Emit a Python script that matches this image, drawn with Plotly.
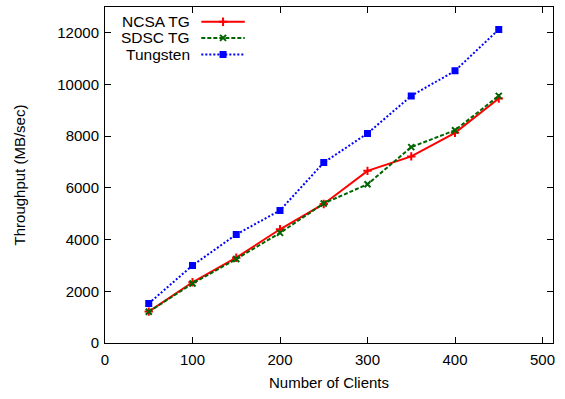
import plotly.graph_objects as go

clients = [50, 100, 150, 200, 250, 300, 350, 400, 450]
ncsa = [1215, 2350, 3300, 4400, 5380, 6660, 7220, 8130, 9460]
sdsc = [1210, 2300, 3250, 4260, 5400, 6140, 7580, 8230, 9560]
tungsten = [1530, 3000, 4200, 5130, 6980, 8110, 9560, 10530, 12130]

names = ["NCSA TG", "SDSC TG", "Tungsten"]
colors = ["#ff0000", "#006400", "#0000ff"]
dashes = ["solid", "4px,2px", "2px,2px"]
symbols = ["cross-thin-open", "x-thin-open", "square"]
msizes = [6, 6, 5]
series = [ncsa, sdsc, tungsten]

FONT = "Liberation Sans, Arial, Helvetica, sans-serif"
FS = 15

fig = go.Figure()
for name, ys, c, d, s, ms in zip(names, series, colors, dashes, symbols, msizes):
    fig.add_trace(go.Scatter(
        x=clients, y=ys, name=name, mode="lines+markers",
        line=dict(color=c, width=2, dash=d),
        marker=dict(symbol=s, size=ms, color=c, line=dict(color=c, width=2)),
        showlegend=False))

# Legend (gnuplot style: text right-aligned, sample on the right)
leg_y = [0.956, 0.908, 0.859]
for name, ly, c, d, s, ms in zip(names, leg_y, colors, dashes, symbols, msizes):
    fig.add_trace(go.Scatter(
        x=[0.215, 0.312], y=[ly, ly], xaxis="x2", yaxis="y2", mode="lines",
        line=dict(color=c, width=2, dash=d), showlegend=False, hoverinfo="skip"))
    fig.add_trace(go.Scatter(
        x=[0.2635], y=[ly], xaxis="x2", yaxis="y2", mode="markers",
        marker=dict(symbol=s, size=ms, color=c, line=dict(color=c, width=2)),
        showlegend=False, hoverinfo="skip"))
    fig.add_annotation(x=0.194, y=ly, xref="x2", yref="y2", text=name,
                       showarrow=False, xanchor="right", yanchor="middle",
                       font=dict(family=FONT, size=FS + 0.5, color="black"))

axis_common = dict(
    showgrid=False, zeroline=False, showline=True, linecolor="black",
    linewidth=1, mirror="ticks", ticks="inside", ticklen=6,
    tickcolor="black", tickfont=dict(family=FONT, size=FS, color="black"),
)
fig.update_layout(
    width=565, height=399,
    margin=dict(l=105, r=12, t=7, b=56),
    paper_bgcolor="white", plot_bgcolor="white",
    xaxis=dict(range=[0, 512], tickvals=[0, 100, 200, 300, 400, 500],
               ticktext=["0", "100", "200", "300", "400", "500"],
               ticklabelstandoff=3,
               title=dict(text="Number of Clients", font=dict(family=FONT, size=FS, color="black"), standoff=10),
               **axis_common),
    yaxis=dict(range=[0, 13000], tickvals=[0, 2000, 4000, 6000, 8000, 10000, 12000],
               ticktext=["0", "2000", "4000", "6000", "8000", "10000", "12000"],
               ticklabelstandoff=2,
               title=dict(text="Throughput (MB/sec)", font=dict(family=FONT, size=FS, color="black"), standoff=28),
               **axis_common),
    xaxis2=dict(range=[0, 1], overlaying="x", visible=False, fixedrange=True),
    yaxis2=dict(range=[0, 1], overlaying="y", visible=False, fixedrange=True),
    showlegend=False,
)

fig.write_html("out.html")
